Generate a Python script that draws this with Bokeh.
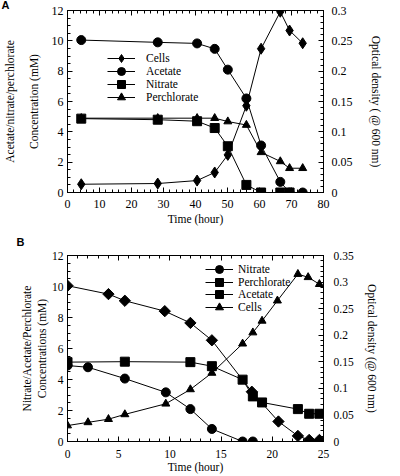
import numpy as np
from bokeh.plotting import figure
from bokeh.models import (Range1d, LinearAxis, FixedTicker, CustomJSTickFormatter,
                          Legend, LegendItem, CustomLabelingPolicy)
from bokeh.layouts import column
from bokeh.embed import file_html
from bokeh.resources import INLINE

# ---------------- Panel A data ----------------
a_t_cells = [4.3, 28.2, 40.5, 46.0, 50.1, 55.9, 60.5, 66.5, 69.4, 73.5]
a_cells = [0.0136, 0.0148, 0.0197, 0.033, 0.062, 0.143, 0.237, 0.298, 0.267, 0.246]
a_t_acetate = [4.3, 28.2, 40.5, 46.0, 50.1, 55.9, 60.5, 66.5, 69.4, 73.5]
a_acetate = [10.05, 9.9, 9.83, 9.47, 8.1, 6.2, 3.1, 0.7, 0.0, 0.0]
a_t_nitrate = [4.3, 28.2, 40.5, 46.0, 50.1, 55.9, 60.5, 66.5, 69.4]
a_nitrate = [4.87, 4.8, 4.7, 4.25, 3.05, 0.5, 0.0, 0.0, 0.0]
a_t_perchlorate = [4.3, 28.2, 40.5, 46.0, 50.1, 55.9, 60.5, 66.5, 69.4, 73.5]
a_perchlorate = [4.9, 4.9, 4.9, 4.9, 4.68, 4.45, 2.65, 2.05, 1.6, 1.6]
a_legend_labels = ["Cells", "Acetate", "Nitrate", "Perchlorate"]

# ---------------- Panel B data ----------------
b_t_nitrate = [0, 2.0, 5.6, 9.6, 12.0, 14.1, 17.1, 18.1]
b_nitrate = [4.9, 4.79, 4.06, 3.17, 2.09, 0.81, 0.0, 0.0]
b_t_perchlorate = [0, 5.6, 12.0, 14.1, 17.1, 18.1, 19.0, 22.5, 23.6, 24.6]
b_perchlorate = [5.12, 5.15, 5.12, 4.86, 3.99, 2.91, 2.52, 2.09, 1.79, 1.79]
b_t_acetate = [0, 4.0, 5.6, 9.5, 12.0, 14.1, 18.0, 20.6, 22.5, 23.6, 24.6]
b_acetate = [10.05, 9.51, 9.08, 8.41, 7.65, 6.53, 3.21, 1.29, 0.36, 0.1, 0.1]
b_t_cells = [0, 2.0, 4.0, 5.6, 9.6, 12.0, 14.1, 17.1, 18.1, 19.0, 20.5, 22.5, 23.5, 24.6]
b_cells = [0.030, 0.036, 0.042, 0.051, 0.071, 0.098, 0.129, 0.184, 0.205, 0.227,
           0.265, 0.315, 0.309, 0.296]
b_legend_labels = ["Nitrate", "Perchlorate", "Acetate", "Cells"]

# tick values
a_xticks = [0, 10, 20, 30, 40, 50, 60, 70, 80]
a_yticks = [0, 2, 4, 6, 8, 10, 12]
a_odticks = [0, 0.05, 0.1, 0.15, 0.2, 0.25, 0.3]
b_xticks = [0, 5, 10, 15, 20, 25]
b_yticks = [0, 2, 4, 6, 8, 10, 12]
b_odticks = [0, 0.05, 0.1, 0.15, 0.2, 0.25, 0.3, 0.35]

SERIF = "Liberation Serif"
FS = "11.5px"
fmt = CustomJSTickFormatter(code="return String(Math.round(tick*100)/100);")


def style_axis(ax, tick_fs, standoff):
    ax.axis_line_color = "black"
    ax.major_tick_line_color = "black"
    ax.minor_tick_line_color = "black"
    ax.major_tick_in = 5
    ax.major_tick_out = 0
    ax.minor_tick_in = 3
    ax.minor_tick_out = 0
    ax.major_label_text_font = SERIF
    ax.major_label_text_font_size = tick_fs
    ax.major_label_text_color = "black"
    ax.major_label_standoff = standoff
    ax.axis_label_text_font = SERIF
    ax.axis_label_text_font_style = "normal"
    ax.axis_label_text_font_size = FS
    ax.axis_label_text_color = "black"


def dummy_axis(label, standoff):
    ax = LinearAxis(axis_label=label, ticker=FixedTicker(ticks=[]))
    ax.axis_line_color = None
    ax.major_tick_line_color = None
    ax.minor_tick_line_color = None
    ax.major_label_standoff = 0
    ax.major_tick_in = 0
    ax.major_tick_out = 0
    ax.minor_tick_in = 0
    ax.minor_tick_out = 0
    ax.axis_label_text_font = SERIF
    ax.axis_label_text_font_style = "normal"
    ax.axis_label_text_font_size = FS
    ax.axis_label_text_color = "black"
    ax.axis_label_standoff = standoff
    return ax


def build(fig_h, mb, xr, yr, odr, xt, xminor, yt, ymin, odt, odmin, tick_fs,
          line1, line2, right_label, std, letter, letter_offset, letter_standoff):
    left, right_b, top_b, bottom = mb
    p = figure(width=400, height=fig_h,
               x_range=Range1d(*xr), y_range=Range1d(*yr),
               output_backend="svg", toolbar_location=None,
               min_border_left=left, min_border_top=top_b,
               min_border_right=right_b, min_border_bottom=bottom)
    p.extra_y_ranges = {"od": Range1d(*odr)}
    p.xgrid.visible = False
    p.ygrid.visible = False
    p.outline_line_color = "black"
    p.background_fill_color = "white"
    p.border_fill_color = "white"

    p.xaxis.ticker = FixedTicker(ticks=xt, minor_ticks=xminor)
    p.xaxis.axis_label = "Time (hour)"
    for ax in p.xaxis:
        style_axis(ax, tick_fs, std["x_tick"])
        ax.axis_label_standoff = std["x_lab"]
    p.yaxis.ticker = FixedTicker(ticks=yt, minor_ticks=ymin)
    p.yaxis.axis_label = line2
    for ax in p.yaxis:
        style_axis(ax, tick_fs, std["y_tick"])
        ax.axis_label_standoff = std["y_lab"]
    p.add_layout(dummy_axis(line1, std["dummy"]), "left")

    top = LinearAxis(ticker=FixedTicker(ticks=xt, minor_ticks=xminor),
                     major_label_policy=CustomLabelingPolicy(code="return []"))
    style_axis(top, "1px", 0)
    p.add_layout(top, "above")

    right = LinearAxis(y_range_name="od", ticker=FixedTicker(ticks=odt, minor_ticks=odmin),
                       formatter=fmt, axis_label=right_label)
    style_axis(right, tick_fs, std["r_tick"])
    right.axis_label_standoff = std["r_lab"]
    p.add_layout(right, "right")

    p.title.text = letter
    p.title.align = "left"
    p.title.vertical_align = "bottom"
    p.title.offset = letter_offset
    p.title.standoff = letter_standoff
    p.title.text_font = "Liberation Sans"
    p.title.text_font_style = "bold"
    p.title.text_font_size = "11px"
    p.title.text_color = "black"
    return p


def add_series(p, x, y, marker, size, y_range_name="default", angle=0.0):
    kw = {}
    if y_range_name != "default":
        kw["y_range_name"] = y_range_name
    r1 = p.line(x, y, line_color="black", line_width=1, **kw)
    r2 = p.scatter(x, y, marker=marker, size=size, fill_color="black", line_color="black",
                   angle=angle, **kw)
    return [r1, r2]


def add_legend_rows(p, labels, renderer_sets, x, ys, standoff):
    for lab, rs, y in zip(labels, renderer_sets, ys):
        leg = Legend(items=[LegendItem(label=lab, renderers=rs)], location=(x, y))
        leg.border_line_color = None
        leg.background_fill_alpha = 0
        leg.padding = 0
        leg.margin = 0
        leg.spacing = 0
        leg.glyph_width = 28
        leg.glyph_height = 20
        leg.label_height = 13
        leg.label_standoff = standoff
        leg.label_text_font = SERIF
        leg.label_text_font_size = FS
        leg.label_text_color = "black"
        p.add_layout(leg)


# ---------------- Figure A ----------------
pA = build(230, (67, 57, 8, 38), (0, 80), (0, 12), (0, 0.3),
           a_xticks, list(np.arange(0, 81, 2)), a_yticks, list(np.arange(0, 12.01, 0.5)),
           a_odticks, list(np.arange(0, 0.301, 0.01)), "12px",
           "Acetate/nitrate/perchlorate", "Concentration (mM)", "Optical density ( @ 600 nm)",
           dict(x_tick=7, x_lab=2, y_tick=4, y_lab=9, dummy=9, r_tick=8, r_lab=14),
           "A", -66, -8)

rA_cells = add_series(pA, a_t_cells, a_cells, "diamond", 11, "od")
rA_ace = add_series(pA, a_t_acetate, a_acetate, "circle", 9)
rA_nit = add_series(pA, a_t_nitrate, a_nitrate, "square", 9)
rA_per = add_series(pA, a_t_perchlorate, a_perchlorate, "triangle", 8)
add_legend_rows(pA, a_legend_labels, [rA_cells, rA_ace, rA_nit, rA_per],
                40, [124, 111, 98, 85], 11)

# ---------------- Figure B ----------------
pB = build(246, (47, 77, 25, 35), (0, 25), (0, 12), (0, 0.35),
           b_xticks, list(np.arange(0, 25.01, 1)), b_yticks, list(np.arange(0, 12.01, 0.5)),
           b_odticks, list(np.arange(0, 0.351, 0.01)), "11.5px",
           "Nitrate/Acetate/Perchlorate", "Concentrations (mM)", "Optical density (@ 600 nm)",
           dict(x_tick=8, x_lab=0, y_tick=4, y_lab=1, dummy=0, r_tick=10, r_lab=9),
           "B", -51, 7)

rB_nit = add_series(pB, b_t_nitrate, b_nitrate, "circle", 9)
rB_per = add_series(pB, b_t_perchlorate, b_perchlorate, "square", 9)
rB_ace = add_series(pB, b_t_acetate, b_acetate, "square", 8, angle=np.pi / 4)
rB_cells = add_series(pB, b_t_cells, b_cells, "triangle", 8, "od")
add_legend_rows(pB, b_legend_labels, [rB_nit, rB_per, rB_ace, rB_cells],
                138, [162, 149, 137, 124], 5)

layout = column(pA, pB, spacing=0)
open("out.html", "w").write(file_html(layout, INLINE))
